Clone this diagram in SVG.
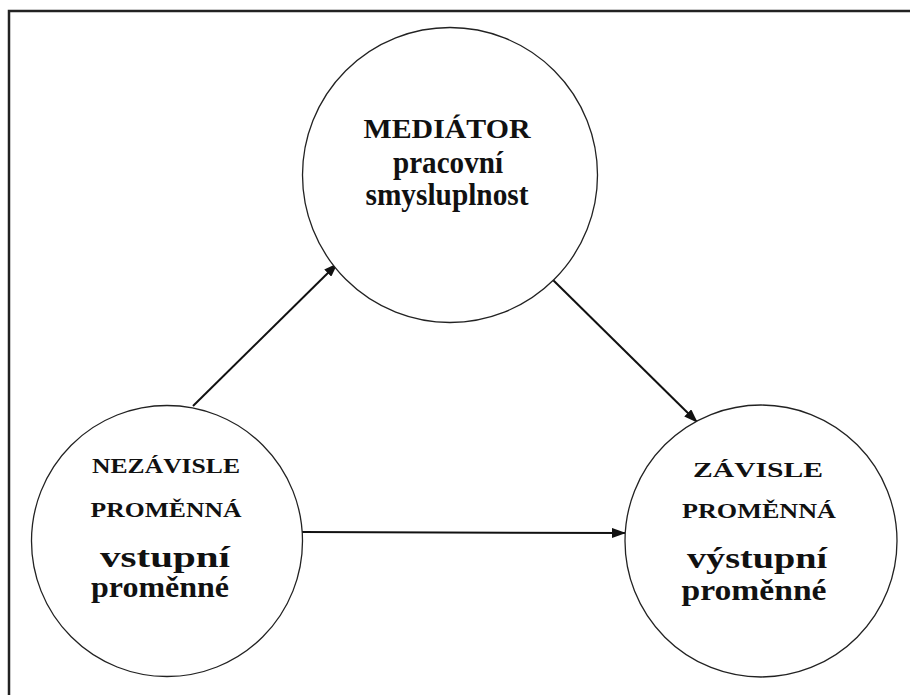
<svg xmlns="http://www.w3.org/2000/svg" width="910" height="695" viewBox="0 0 910 695">
<defs>
<style>
.node{fill:#fff;stroke:#222;stroke-width:1.3}
.t{font-family:"Liberation Serif","Times New Roman",serif;font-weight:bold;fill:#111;text-anchor:middle}
.edge{stroke:#111;stroke-width:2;fill:none;marker-end:url(#ah)}
</style>
<marker id="ah" viewBox="0 0 14 10" refX="13" refY="5" markerWidth="14" markerHeight="10" markerUnits="userSpaceOnUse" orient="auto">
<path d="M0,0 L14,5 L0,10 Z" fill="#111"/>
</marker>
</defs>
<rect width="910" height="695" fill="#fff"/>
<path d="M9,695 V11 H910" fill="none" stroke="#222" stroke-width="2.5"/>
<g id="edges">
<line class="edge" x1="193" y1="406" x2="337" y2="264"/>
<line class="edge" x1="553" y1="280" x2="697" y2="422"/>
<line class="edge" x1="302" y1="532" x2="625" y2="533"/>
</g>
<g id="mediator">
<circle class="node" cx="450" cy="175" r="147.5"/>
<text class="t" x="447" y="138" font-size="28" textLength="167" lengthAdjust="spacingAndGlyphs">MEDIÁTOR</text>
<text class="t" x="448" y="173" font-size="31" textLength="110" lengthAdjust="spacingAndGlyphs">pracovní</text>
<text class="t" x="447" y="205" font-size="31" textLength="163" lengthAdjust="spacingAndGlyphs">smysluplnost</text>
</g>
<g id="nezavisle">
<circle class="node" cx="167" cy="541" r="135.5"/>
<text class="t" x="166" y="473" font-size="21" textLength="148" lengthAdjust="spacingAndGlyphs">NEZÁVISLE</text>
<text class="t" x="166" y="517" font-size="21" textLength="151" lengthAdjust="spacingAndGlyphs">PROMĚNNÁ</text>
<text class="t" x="165" y="567" font-size="30" textLength="130" lengthAdjust="spacingAndGlyphs">vstupní</text>
<text class="t" x="160" y="597" font-size="30" textLength="138" lengthAdjust="spacingAndGlyphs">proměnné</text>
</g>
<g id="zavisle">
<circle class="node" cx="761" cy="541" r="136"/>
<text class="t" x="758" y="477" font-size="21" textLength="130" lengthAdjust="spacingAndGlyphs">ZÁVISLE</text>
<text class="t" x="759" y="518" font-size="21" textLength="154" lengthAdjust="spacingAndGlyphs">PROMĚNNÁ</text>
<text class="t" x="757" y="568" font-size="30" textLength="140" lengthAdjust="spacingAndGlyphs">výstupní</text>
<text class="t" x="754" y="600" font-size="30" textLength="145" lengthAdjust="spacingAndGlyphs">proměnné</text>
</g>
</svg>
